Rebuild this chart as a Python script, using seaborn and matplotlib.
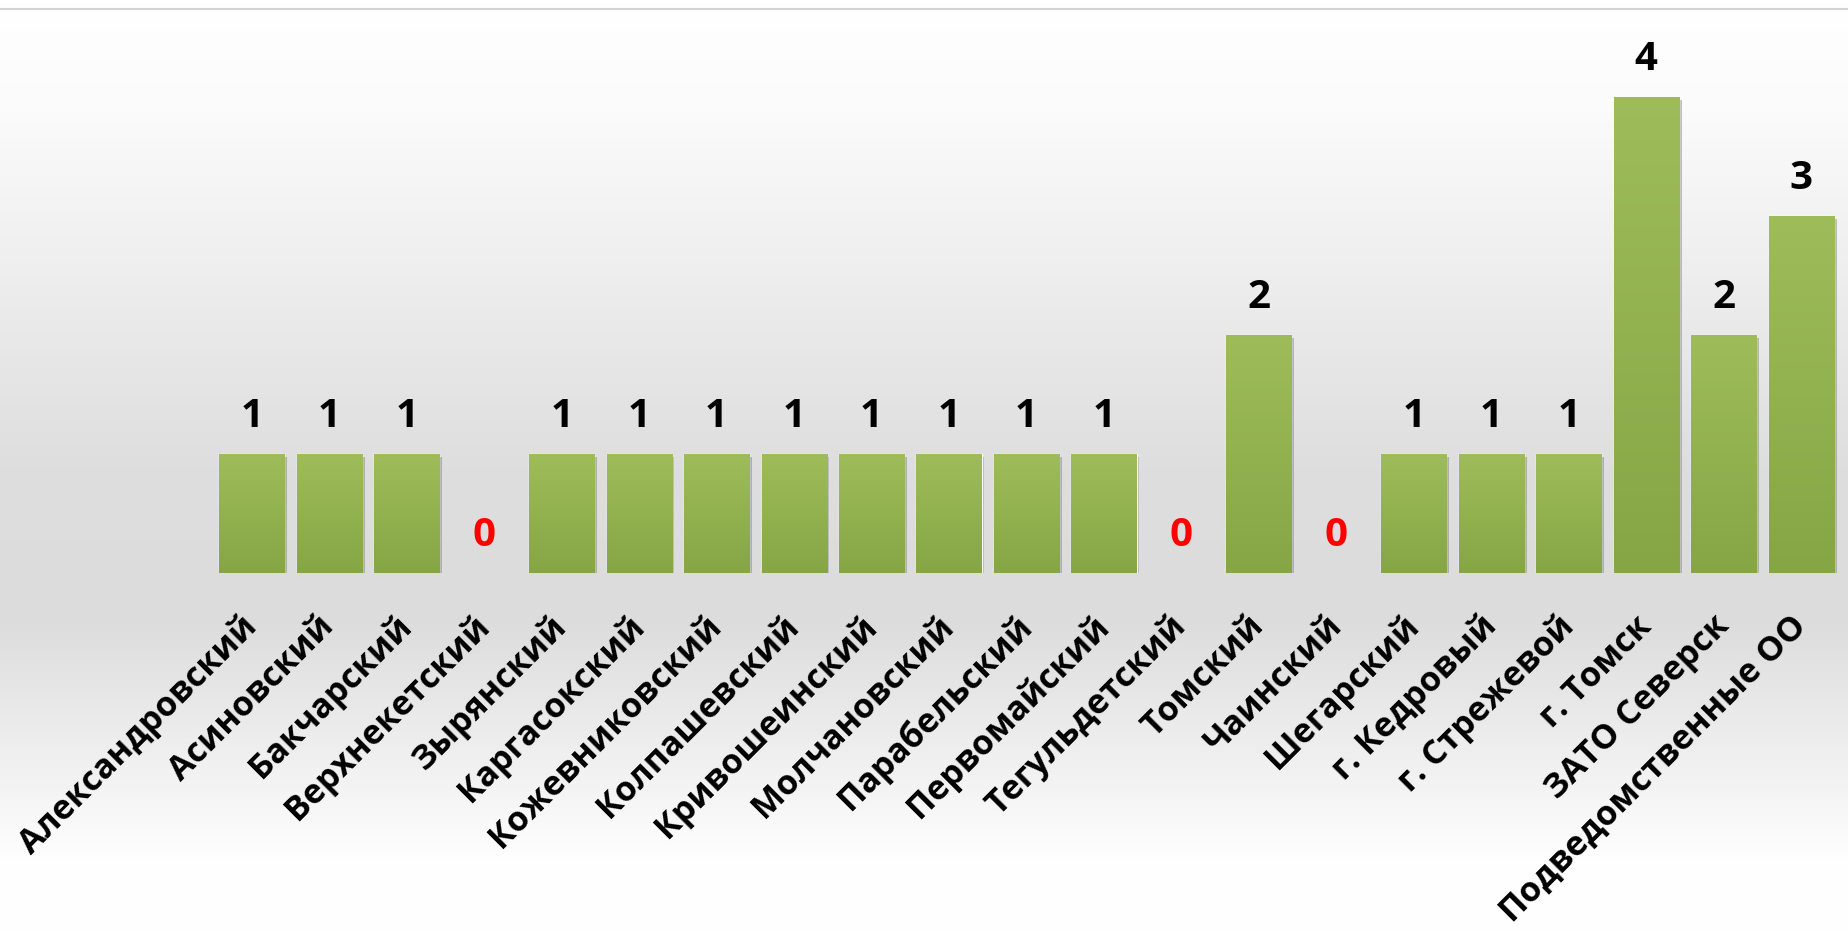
import numpy as np
import pandas as pd
import seaborn as sns
from matplotlib import pyplot as plt
from matplotlib import patheffects as pe
from matplotlib.colors import LinearSegmentedColormap
from matplotlib.lines import Line2D

# data
districts = ["Александровский", "Асиновский", "Бакчарский", "Верхнекетский",
             "Зырянский", "Каргасокский", "Кожевниковский", "Колпашевский",
             "Кривошеинский", "Молчановский", "Парабельский", "Первомайский",
             "Тегульдетский", "Томский", "Чаинский", "Шегарский", "г. Кедровый",
             "г. Стрежевой", "г. Томск", "ЗАТО Северск", "Подведомственные ОО"]
counts = [1, 1, 1, 0, 1, 1, 1, 1, 1, 1, 1, 1, 0, 2, 0, 1, 1, 1, 4, 2, 3]

df = pd.DataFrame({"district": districts, "count": counts})

sns.set_style("white")
plt.rcParams['font.family'] = ['Open Sans', 'DejaVu Sans']

W, H = 1849, 937
fig = plt.figure(figsize=(W / 100, H / 100), dpi=100)

# background: white -> grey -> white
bg = fig.add_axes([0, 0, 1, 1], zorder=0)
bg_cmap = LinearSegmentedColormap.from_list(
    "bg", [(0.0, "#ffffff"), (0.12, "#fbfbfb"), (0.5, "#dedede"),
           (0.66, "#dcdcdc"), (0.92, "#fefefe"), (1.0, "#ffffff")])
grad = np.linspace(0, 1, 256).reshape(-1, 1)
bg.imshow(grad, aspect='auto', cmap=bg_cmap, extent=[0, 1, 0, 1])
bg.axis('off')
fig.add_artist(Line2D([0, 1], [1 - 10 / H, 1 - 10 / H], color="#d4d4d4", lw=1.5))

# main axes
base_y = 574
unit = 119
ax = fig.add_axes([213 / W, (H - base_y) / H, (1840 - 213) / W, 4.5 * unit / H], zorder=1)
ax.patch.set_alpha(0)

sns.barplot(data=df, x="district", y="count", ax=ax, color="#9bbb59",
            saturation=1, width=0.84)

bar_cmap = LinearSegmentedColormap.from_list("bar", ["#9ebd5a", "#86a544"])
for bar in list(ax.patches):
    h = bar.get_height()
    if h <= 0:
        bar.set_visible(False)
        continue
    bar.set_path_effects([pe.SimplePatchShadow(offset=(2, -2), shadow_rgbFace="#777777", alpha=0.45),
                          pe.Normal()])
    x0 = bar.get_x()
    w = bar.get_width()
    im = ax.imshow(grad, aspect='auto', cmap=bar_cmap, extent=[x0, x0 + w, 0, h],
                   zorder=bar.get_zorder() + 0.1)
    im.set_clip_path(bar)

ax.set_xlim(-0.5, len(districts) - 0.5)
ax.set_ylim(0, 4.5)

for i, v in enumerate(counts):
    ax.annotate(str(v), (i, v), xytext=(0, 28), textcoords='offset points',
                ha='center', va='center', fontsize=29, fontweight='bold',
                color='#ff0000' if v == 0 else 'black', annotation_clip=False)

ax.set_xticks(range(len(districts)))
ax.set_xticklabels(districts, rotation=45, ha='right', va='center',
                   rotation_mode='anchor', fontsize=24.5, fontweight='bold',
                   color='black')
ax.tick_params(axis='x', length=0, pad=34)
ax.set_yticks([])
ax.set_xlabel("")
ax.set_ylabel("")
sns.despine(ax=ax, left=True, bottom=True)

fig.savefig("out.png", dpi=100)
